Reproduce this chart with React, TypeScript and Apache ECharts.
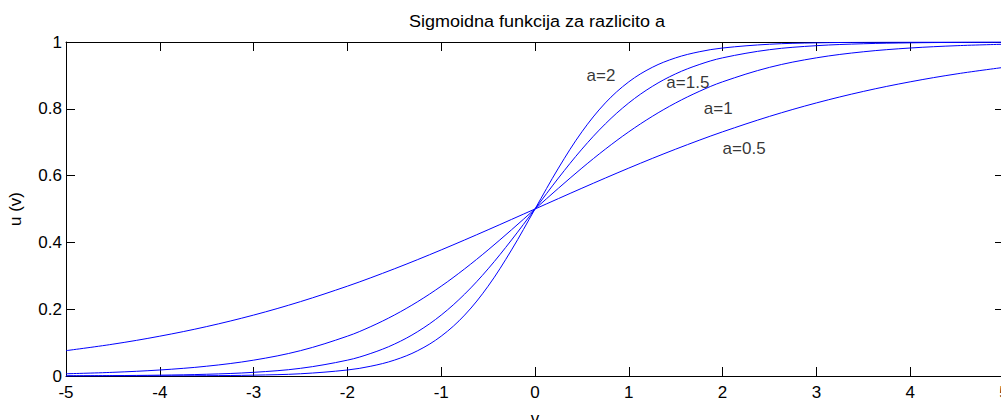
import React, { useEffect, useRef } from "react";
import * as echarts from "echarts";

const xs = [-5, -4.5, -4, -3.5, -3, -2.5, -2, -1.75, -1.5, -1.25, -1, -0.75, -0.5, -0.25, 0, 0.25, 0.5, 0.75, 1, 1.25, 1.5, 1.75, 2, 2.5, 3, 3.5, 4, 4.5, 5];

const uA05 = [0.0759, 0.0953, 0.1192, 0.148, 0.1824, 0.2227, 0.2689, 0.2942, 0.3208, 0.3486, 0.3775, 0.4073, 0.4378, 0.4688, 0.5, 0.5312, 0.5622, 0.5927, 0.6225, 0.6514, 0.6792, 0.7058, 0.7311, 0.7773, 0.8176, 0.852, 0.8808, 0.9047, 0.9241];
const uA1 = [0.0067, 0.011, 0.018, 0.0293, 0.0474, 0.0759, 0.1192, 0.148, 0.1824, 0.2227, 0.2689, 0.3208, 0.3775, 0.4378, 0.5, 0.5622, 0.6225, 0.6792, 0.7311, 0.7773, 0.8176, 0.852, 0.8808, 0.9241, 0.9526, 0.9707, 0.982, 0.989, 0.9933];
const uA15 = [0.0006, 0.0012, 0.0025, 0.0052, 0.011, 0.023, 0.0474, 0.0676, 0.0953, 0.133, 0.1824, 0.2451, 0.3208, 0.4073, 0.5, 0.5927, 0.6792, 0.7549, 0.8176, 0.867, 0.9047, 0.9324, 0.9526, 0.977, 0.989, 0.9948, 0.9975, 0.9988, 0.9994];
const uA2 = [0.0, 0.0001, 0.0003, 0.0009, 0.0025, 0.0067, 0.018, 0.0293, 0.0474, 0.0759, 0.1192, 0.1824, 0.2689, 0.3775, 0.5, 0.6225, 0.7311, 0.8176, 0.8808, 0.9241, 0.9526, 0.9707, 0.982, 0.9933, 0.9975, 0.9991, 0.9997, 0.9999, 1.0];

const seriesNames = ["a=0.5", "a=1", "a=1.5", "a=2"];
const seriesValues = [uA05, uA1, uA15, uA2];

const labelTexts = ["a=2", "a=1.5", "a=1", "a=0.5"];
const labelX = [0.55, 1.4, 1.8, 2.0];
const labelY = [0.9, 0.88, 0.8, 0.68];

const xTicks = [-5, -4, -3, -2, -1, 0, 1, 2, 3, 4, 5];
const yTicks = [0, 0.2, 0.4, 0.6, 0.8, 1];

const titleText = "Sigmoidna funkcija za razlicito a";
const xName = "v";
const yName = "u (v)";

const FONT = "Arial, 'Liberation Sans', Helvetica, sans-serif";
const FS = 17;

export default function App() {
  const ref = useRef<HTMLDivElement>(null);
  useEffect(() => {
    if (!ref.current) return;
    const chart = echarts.init(ref.current, undefined, { renderer: "svg" });
    const axisLine = { show: true, onZero: false, lineStyle: { color: "#000", width: 1 } };
    const tickIn = { show: true, inside: true, length: 9, lineStyle: { color: "#000", width: 1 } };
    const option: any = {
      animation: false,
      backgroundColor: "#fff",
      textStyle: { fontFamily: FONT },
      graphic: [
        {
          type: "text",
          x: 537,
          y: 21,
          scaleX: 1.06,
          style: {
            text: titleText,
            font: `${FS}px ${FONT}`,
            fill: "#000",
            textAlign: "center",
            textVerticalAlign: "middle",
          },
        },
      ],
      grid: {
        left: 66,
        top: 42,
        width: 938,
        height: 334,
        containLabel: false,
        outerBoundsMode: "none",
      },
      xAxis: [
        {
          type: "value",
          min: xTicks[0],
          max: xTicks[xTicks.length - 1],
          interval: 1,
          position: "bottom",
          name: xName,
          nameLocation: "middle",
          nameGap: 34,
          nameTextStyle: { color: "#000", fontSize: FS, fontFamily: FONT },
          axisLine,
          axisTick: tickIn,
          axisLabel: { color: "#000", fontSize: FS, margin: 8, fontFamily: FONT },
          splitLine: { show: false },
        },
        {
          type: "value",
          min: xTicks[0],
          max: xTicks[xTicks.length - 1],
          interval: 1,
          position: "top",
          axisLine,
          axisTick: tickIn,
          axisLabel: { show: false },
          splitLine: { show: false },
        },
      ],
      yAxis: [
        {
          type: "value",
          min: yTicks[0],
          max: yTicks[yTicks.length - 1],
          interval: 0.2,
          position: "left",
          name: yName,
          nameLocation: "middle",
          nameGap: 42,
          nameTextStyle: { color: "#000", fontSize: FS, fontFamily: FONT },
          axisLine,
          axisTick: tickIn,
          axisLabel: { color: "#000", fontSize: FS, margin: 4, fontFamily: FONT },
          splitLine: { show: false },
        },
        {
          type: "value",
          min: yTicks[0],
          max: yTicks[yTicks.length - 1],
          interval: 0.2,
          position: "right",
          axisLine,
          axisTick: tickIn,
          axisLabel: { show: false },
          splitLine: { show: false },
        },
      ],
      series: [
        ...seriesValues.map((vals, i) => ({
          name: seriesNames[i],
          type: "line",
          data: xs.map((x, j) => [x, vals[j]]),
          smooth: 0.35,
          showSymbol: false,
          symbol: "none",
          lineStyle: { color: "#0000ff", width: 1 },
          z: 3,
        })),
        {
          name: "labels",
          type: "scatter",
          symbolSize: 0,
          data: labelX.map((x, i) => ({ value: [x, labelY[i]], name: labelTexts[i] })),
          label: {
            show: true,
            position: "right",
            distance: 0,
            formatter: (p: any) => p.name,
            color: "#000",
            fontSize: FS,
            fontFamily: FONT,
          },
          silent: true,
          z: 4,
        },
      ],
    };
    chart.setOption(option);
    return () => chart.dispose();
  }, []);
  return (
    <div
      ref={ref}
      style={{ position: "fixed", left: 0, top: 0, width: 1001, height: 420, background: "#fff" }}
    />
  );
}
